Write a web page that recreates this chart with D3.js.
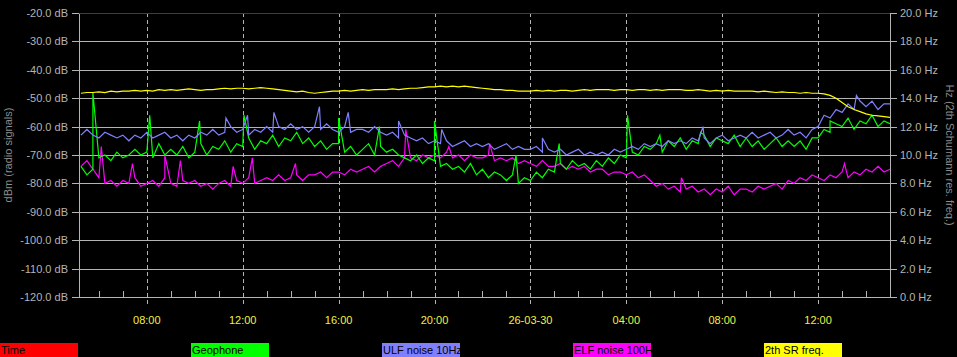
<!DOCTYPE html>
<html lang="en">
  <head>
    <meta charset="UTF-8">
    <title>Radio / Geophone / Schumann monitor</title>
    <style>
      body { margin: 0; background: #000; }
      svg { display: block; }
    </style>
  </head>
  <body>
    <div id="chart"></div>
    <script src="https://d3js.org/d3.v7.min.js"></script>
    <script>
      // samples every 15 minutes, hours counted from 00:00 of the first day
      const sampleStart = 5.25;
      const sampleStep = 0.25;

      // Geophone (dB)
      const geophone = [
        -74, -77, -75,
        -71, -70, -72, -69,  -71, -70, -68, -70,  -69, -71, -66, -70,  -68, -70, -67, -71,
        -69, -66, -70, -67,  -68, -65, -69, -66,  -67, -64, -68, -65,  -66, -63, -67, -64,
        -65, -62, -66, -64,  -67, -65, -68, -66,  -66, -69, -67, -70,  -68, -66, -70, -67,
        -69, -68, -70, -71,  -72, -70, -73, -71,  -72, -74, -73, -75,  -74, -76, -73, -77,
        -75, -78, -76, -77,  -79, -77, -80, -78,  -79, -76, -78, -75,  -76, -73, -75, -72,
        -74, -73, -75, -72,  -74, -71, -73, -70,  -71, -69, -70, -67,  -68, -66, -69, -65,
        -67, -64, -68, -65,  -66, -63, -67, -64,  -65, -66, -63, -67,  -64, -67, -65, -68,
        -66, -64, -67, -65,  -67, -65, -68, -64,  -64, -61, -62, -59,  -60, -57, -61, -58,
        -59, -56, -60, -58,  -59
      ];
      const geophoneSpikes = [
        [5.75, -48], [8.12, -56], [10.2, -58], [12.05, -56], [16.0, -57], [17.7, -60],
        [20.0, -58], [23.4, -70], [25.2, -66], [28.05, -56], [29.4, -63], [31.1, -62],
        [36.5, -58]
      ];

      // ULF noise 10Hz (dB)
      const ulf = [
        -63, -61, -63,
        -64, -62, -63, -64,  -63, -65, -63, -64,  -62, -64, -63, -62,  -64, -63, -65, -63,
        -64, -62, -63, -61,  -63, -62, -60, -62,  -61, -63, -61, -62,  -60, -62, -60, -61,
        -59, -61, -60, -62,  -60, -61, -59, -61,  -62, -60, -62, -61,  -61, -62, -60, -62,
        -63, -62, -64, -63,  -64, -65, -64, -66,  -65, -66, -65, -67,  -66, -65, -67, -66,
        -67, -66, -68, -67,  -66, -68, -67, -68,  -68, -67, -69, -68,  -69, -68, -70, -69,
        -68, -70, -69, -70,  -69, -70, -68, -69,  -68, -67, -68, -66,  -67, -66, -67, -65,
        -66, -65, -66, -64,  -65, -64, -66, -64,  -63, -65, -64, -63,  -64, -62, -64, -63,
        -62, -64, -63, -61,  -63, -62, -64, -61,  -60, -56, -57, -54,  -55, -52, -54, -51,
        -53, -51, -54, -52,  -52
      ];
      const ulfSpikes = [
        [11.3, -57], [12.2, -56], [13.3, -55], [15.2, -53], [16.4, -55], [18.5, -58],
        [20.3, -61], [24.5, -64], [31.2, -60], [37.6, -49]
      ];

      // ELF noise 100Hz (dB)
      const elf = [
        -74, -72, -75,
        -78, -80, -79, -81,  -79, -80, -78, -81,  -80, -79, -81, -78,  -80, -81, -79, -80,
        -79, -81, -80, -82,  -80, -79, -81, -79,  -80, -78, -80, -79,  -78, -79, -77, -79,
        -78, -77, -79, -77,  -77, -76, -78, -76,  -76, -77, -75, -76,  -75, -74, -76, -74,
        -73, -72, -74, -71,  -71, -72, -70, -71,  -70, -71, -69, -71,  -70, -72, -70, -71,
        -71, -70, -72, -71,  -72, -71, -73, -72,  -73, -74, -72, -74,  -74, -73, -75, -74,
        -75, -74, -76, -75,  -75, -77, -76, -76,  -77, -76, -78, -77,  -79, -81, -80, -82,
        -81, -83, -82, -81,  -83, -82, -84, -82,  -83, -81, -84, -82,  -82, -83, -81, -82,
        -81, -80, -82, -79,  -80, -78, -79, -77,  -78, -79, -77, -78,  -76, -78, -76, -77,
        -75, -76, -74, -76,  -75
      ];
      const elfSpikes = [
        [6.1, -67], [7.4, -73], [8.75, -70], [9.4, -72], [11.6, -74], [12.4, -71],
        [14.2, -73], [18.8, -61], [20.6, -67], [22.3, -66], [30.3, -78], [37.1, -73]
      ];

      // 2th Schumann resonance frequency (Hz)
      const srFreq = [
        14.35, 14.4, 14.4,
        14.45, 14.4, 14.5, 14.45,  14.5, 14.5, 14.55, 14.5,  14.55, 14.5, 14.6, 14.55,
        14.6, 14.55, 14.6, 14.65,  14.6, 14.55, 14.6, 14.6,  14.65, 14.7, 14.65, 14.7,
        14.7, 14.65, 14.7, 14.75,  14.7, 14.65, 14.6, 14.55,  14.5, 14.45, 14.5, 14.4,
        14.35, 14.4, 14.45, 14.5,  14.5, 14.55, 14.5, 14.55,  14.6, 14.55, 14.6, 14.6,
        14.6, 14.65, 14.6, 14.65,  14.7, 14.7, 14.75, 14.8,  14.8, 14.85, 14.8, 14.85,
        14.8, 14.85, 14.8, 14.75,  14.7, 14.65, 14.6, 14.6,  14.55, 14.55, 14.5, 14.5,
        14.5, 14.55, 14.5, 14.55,  14.5, 14.55, 14.55, 14.5,  14.55, 14.6, 14.55, 14.6,
        14.6, 14.6, 14.55, 14.6,  14.6, 14.55, 14.6, 14.6,  14.55, 14.6, 14.55, 14.6,
        14.6, 14.6, 14.55, 14.55,  14.6, 14.55, 14.5, 14.55,  14.5, 14.55, 14.5, 14.5,
        14.5, 14.5, 14.45, 14.5,  14.45, 14.4, 14.45, 14.4,  14.4, 14.35, 14.4, 14.35,
        14.35, 14.3, 14.2, 14.0,  13.7, 13.4, 13.2, 13.05,  12.9, 12.8, 12.75, 12.7,
        12.65
      ];

      // Time trace sits on the top of the dB scale
      const timeTrace = [[5.17, -20], [39.0, -20]];

      const timeDomain = [5.17, 39.0];
      const dbTicks = [-120, -110, -100, -90, -80, -70, -60, -50, -40, -30, -20];
      const hzTicks = [0, 2, 4, 6, 8, 10, 12, 14, 16, 18, 20];
      const majorHours = [8, 12, 16, 20, 24, 28, 32, 36];
      const majorLabels = ["08:00", "12:00", "16:00", "20:00", "26-03-30", "04:00", "08:00", "12:00"];

      const legendNames = ["Time", "Geophone", "ULF noise 10Hz", "ELF noise 100H", "2th SR freq."];
      const legendColors = ["#ff0000", "#00ff00", "#8080ff", "#ff00ff", "#ffff00"];

      const font = "'Liberation Sans', Arial, sans-serif";
      const gray = "#b4b4b4";

      const margin = { top: 13, right: 67, bottom: 60, left: 79 };
      const width = 957 - margin.left - margin.right;
      const height = 357 - margin.top - margin.bottom;

      const root = d3.select("#chart").append("svg")
          .attr("width", 957)
          .attr("height", 357)
          .style("background", "#000");

      const svg = root.append("g")
          .attr("transform", "translate(" + margin.left + "," + margin.top + ")");

      const x = d3.scaleLinear().domain(timeDomain).range([0, width]);
      const y = d3.scaleLinear().domain([-120, -20]).range([height, 0]);
      const yHz = d3.scaleLinear().domain([0, 20]).range([height, 0]);

      // horizontal grid + left / right tick stubs
      svg.selectAll(".grid")
        .data(dbTicks)
        .enter().append("line")
          .attr("x1", -7).attr("x2", width + 7)
          .attr("y1", d => Math.round(y(d)) + 0.5)
          .attr("y2", d => Math.round(y(d)) + 0.5)
          .attr("stroke", gray)
          .attr("stroke-width", 1);

      // left axis labels
      svg.selectAll(".dbLabel")
        .data(dbTicks)
        .enter().append("text")
          .attr("x", -11)
          .attr("y", d => y(d) + 4)
          .attr("text-anchor", "end")
          .style("font-family", font)
          .style("font-size", "11px")
          .style("fill", gray)
          .text(d => d.toFixed(1) + " dB");

      // right axis labels
      svg.selectAll(".hzLabel")
        .data(hzTicks)
        .enter().append("text")
          .attr("x", width + 10)
          .attr("y", d => yHz(d) + 4)
          .style("font-family", font)
          .style("font-size", "11px")
          .style("fill", gray)
          .text(d => d.toFixed(1) + " Hz");

      // frame sides
      [0, width].forEach(function(px) {
        svg.append("line")
          .attr("x1", px + 0.5).attr("x2", px + 0.5)
          .attr("y1", 0).attr("y2", height)
          .attr("stroke", gray);
      });

      // hourly ticks on the bottom
      const minorHours = d3.range(6, 39).filter(h => majorHours.indexOf(h) < 0);
      svg.selectAll(".minor")
        .data(minorHours)
        .enter().append("line")
          .attr("x1", d => Math.round(x(d)) + 0.5)
          .attr("x2", d => Math.round(x(d)) + 0.5)
          .attr("y1", height - 6).attr("y2", height)
          .attr("stroke", gray);

      // dashed time lines
      svg.selectAll(".major")
        .data(majorHours)
        .enter().append("line")
          .attr("x1", d => Math.round(x(d)) + 0.5)
          .attr("x2", d => Math.round(x(d)) + 0.5)
          .attr("y1", 0).attr("y2", height + 9)
          .attr("stroke", gray)
          .attr("stroke-dasharray", "4,3");

      svg.selectAll(".timeLabel")
        .data(majorHours)
        .enter().append("text")
          .attr("x", d => x(d))
          .attr("y", height + 27)
          .attr("text-anchor", "middle")
          .style("font-family", font)
          .style("font-size", "11px")
          .style("fill", "#f0f040")
          .text((d, i) => majorLabels[i]);

      // axis titles
      root.append("text")
        .attr("transform", "translate(12,155) rotate(-90)")
        .attr("text-anchor", "middle")
        .style("font-family", font)
        .style("font-size", "11px")
        .style("fill", "#8c8c8c")
        .text("dBm (radio signals)");

      root.append("text")
        .attr("transform", "translate(946,155) rotate(90)")
        .attr("text-anchor", "middle")
        .style("font-family", font)
        .style("font-size", "11px")
        .style("fill", "#8c8c8c")
        .text("Hz (2th Schumann res. freq.)");

      // build series: regular samples plus short spikes
      function buildSeries(values, spikes) {
        const pts = values.map((v, i) => [sampleStart + i * sampleStep, v]);
        return pts.concat(spikes || []).sort((a, b) => a[0] - b[0]);
      }

      svg.append("clipPath").attr("id", "plotClip")
        .append("rect").attr("x", 0).attr("y", -1).attr("width", width).attr("height", height + 2);

      const lineDb = d3.line().x(d => x(d[0])).y(d => y(d[1]));
      const lineHz = d3.line().x(d => x(d[0])).y(d => yHz(d[1]));

      const plot = svg.append("g").attr("clip-path", "url(#plotClip)");

      plot.append("path")
        .datum(buildSeries(elf, elfSpikes))
        .attr("fill", "none").attr("stroke", "#ff00ff").attr("stroke-width", 1.2)
        .attr("d", lineDb);

      plot.append("path")
        .datum(buildSeries(geophone, geophoneSpikes))
        .attr("fill", "none").attr("stroke", "#00ff00").attr("stroke-width", 1.2)
        .attr("d", lineDb);

      plot.append("path")
        .datum(buildSeries(ulf, ulfSpikes))
        .attr("fill", "none").attr("stroke", "#8080ff").attr("stroke-width", 1.2)
        .attr("d", lineDb);

      plot.append("path")
        .datum(buildSeries(srFreq, []))
        .attr("fill", "none").attr("stroke", "#ffff00").attr("stroke-width", 1.2)
        .attr("d", lineHz);

      svg.append("path")
        .datum(timeTrace)
        .attr("fill", "none").attr("stroke", "#d00000").attr("stroke-width", 1)
        .attr("transform", "translate(0,0.5)")
        .attr("d", lineDb);

      // legend strip
      const legend = root.selectAll(".legend")
        .data(legendNames)
        .enter().append("g")
          .attr("transform", (d, i) => "translate(" + (i * 191) + ",343)");

      legend.append("clipPath")
        .attr("id", (d, i) => "lg" + i)
        .append("rect").attr("width", 78).attr("height", 14);

      legend.append("rect")
        .attr("width", 78).attr("height", 14)
        .attr("fill", (d, i) => legendColors[i]);

      legend.append("text")
        .attr("x", 1).attr("y", 11)
        .attr("clip-path", (d, i) => "url(#lg" + i + ")")
        .style("font-family", font)
        .style("font-size", "11px")
        .style("fill", "#000")
        .text(d => d);
    </script>
  </body>
</html>
